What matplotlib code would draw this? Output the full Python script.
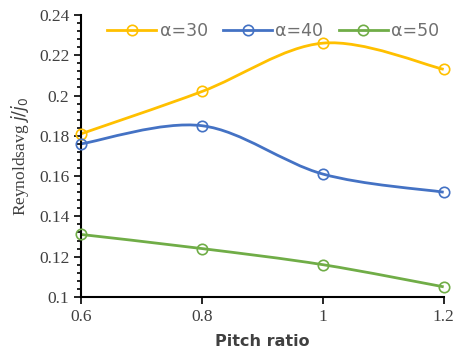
import numpy as np
import matplotlib.pyplot as plt
from matplotlib.path import Path
from matplotlib.patches import PathPatch
from matplotlib.ticker import MultipleLocator
from matplotlib.lines import Line2D

pitch = [0.6, 0.8, 1.0, 1.2]
a30 = [0.181, 0.202, 0.226, 0.213]
a40 = [0.176, 0.185, 0.161, 0.152]
a50 = [0.131, 0.124, 0.116, 0.105]
labels = ["α=30", "α=40", "α=50"]
colors = ["#FFC000", "#4472C4", "#70AD47"]


def smooth_path(x, y):
    # Excel-like smoothed line: cubic bezier through the points
    pts = np.column_stack([x, y])
    verts = [pts[0]]
    codes = [Path.MOVETO]
    n = len(pts)
    for i in range(n - 1):
        p0 = pts[max(i - 1, 0)]
        p1 = pts[i]
        p2 = pts[i + 1]
        p3 = pts[min(i + 2, n - 1)]
        c1 = p1 + (p2 - p0) / 6
        c2 = p2 - (p3 - p1) / 6
        verts += [c1, c2, p2]
        codes += [Path.CURVE4] * 3
    return Path(verts, codes)


fig = plt.figure(figsize=(4.56, 3.56), dpi=100)
ax = fig.add_axes([0.178, 0.166, 0.795, 0.792])

handles = []
for ys, lab, c in zip([a30, a40, a50], labels, colors):
    ax.add_patch(PathPatch(smooth_path(pitch, ys), facecolor="none",
                           edgecolor=c, lw=2, zorder=2))
    ax.plot(pitch, ys, ls="none", marker="o", ms=7.5, mfc="none",
            mec=c, mew=1.2, zorder=3, clip_on=False)
    handles.append(Line2D([], [], color=c, lw=2, marker="o", ms=7.5,
                          mfc="none", mec=c, mew=1.2))

ax.set_xlim(0.6, 1.2)
ax.set_ylim(0.1, 0.24)
ax.set_xticks(pitch)
ax.set_xticklabels(["0.6", "0.8", "1", "1.2"])
ax.set_yticks(np.arange(0.1, 0.2401, 0.02))
ax.set_yticklabels(["0.1", "0.12", "0.14", "0.16", "0.18", "0.2", "0.22", "0.24"])
ax.yaxis.set_minor_locator(MultipleLocator(0.004))
ax.tick_params(axis="both", which="major", length=5, width=1.2, direction="out",
               labelsize=12.5, colors="black", labelcolor="#404040")
ax.tick_params(axis="y", which="minor", length=3, width=1.2, direction="out")
for lab in ax.get_xticklabels() + ax.get_yticklabels():
    lab.set_fontfamily("Liberation Serif")

for s in ["top", "right"]:
    ax.spines[s].set_visible(False)
for s in ["left", "bottom"]:
    ax.spines[s].set_linewidth(1.5)

ax.set_xlabel("Pitch ratio", fontsize=11.5, color="#404040", labelpad=7,
              fontweight="semibold")
ax.set_ylabel(r"Reynoldsavg $j/j_0$", fontsize=12.5, color="#404040",
              family="Liberation Serif", labelpad=6)

ax.legend(handles, labels, loc="upper center", bbox_to_anchor=(0.53, 1.03),
          ncol=3, frameon=False, fontsize=12.5, labelcolor="#707070",
          handlelength=2.8, columnspacing=0.9, handletextpad=0.2)

fig.savefig("out.png", dpi=100)
